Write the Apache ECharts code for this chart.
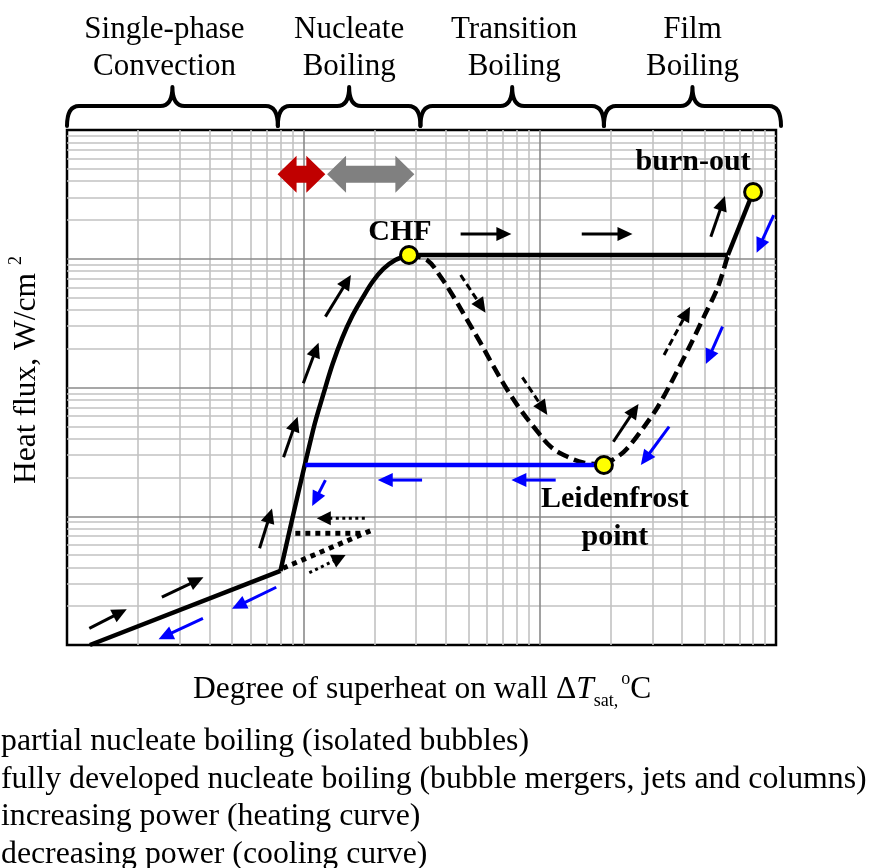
<!DOCTYPE html>
<html>
<head>
<meta charset="utf-8">
<script src="https://cdn.jsdelivr.net/npm/echarts@6/dist/echarts.min.js"></script>
<style>
  html, body { margin: 0; padding: 0; background: #ffffff; }
  #chart { width: 869px; height: 868px; }
</style>
</head>
<body>
<div id="chart"></div>
<script>
const SERIF = '"Liberation Serif", "Times New Roman", serif';

// Boiling regimes along the wall superheat axis (degC) and their captions
const regimeEdges = [1, 7.8, 31.3, 187, 1050];
const regimeNames = ['Single-phase\nConvection', 'Nucleate\nBoiling', 'Transition\nBoiling', 'Film\nBoiling'];
const captionShift = [-8, 0, 2, 0];

// Log grid: decades and the minor multipliers drawn inside each decade
const xDecades = [1, 10, 100];
const yDecades = [1, 10, 100, 1000];
const minorSteps = [2, 3, 4, 5, 6, 7, 8, 9];

// Boiling curve segments as [dT_sat (degC), q (W/cm2)]
const singlePhase = [[1.25, 1], [8, 3.76]];
const nucleate = [[8, 3.76], [11, 46.8], [12.2, 90.7], [13.3, 152], [14.6, 242], [16.1, 359],
                  [17.8, 496], [19.6, 660], [21.8, 833], [24.5, 978], [28, 1070]];
const chfPlateau = [[28, 1070], [626, 1070]];
const transition = [[28, 1070], [33.4, 977], [38.1, 725], [43.2, 507], [49.4, 334], [56.2, 222],
                    [63.9, 145], [73, 95.6], [83.1, 66.9], [94.3, 49.6], [111.3, 34.7],
                    [131.1, 29], [153.6, 26.1], [187, 25]];
const filmUnstable = [[187, 25], [227, 31.6], [276, 49.3], [316, 70.6], [359, 108], [424, 196],
                      [495, 353], [568, 604], [626, 1070]];
const filmStable = [[626, 1070], [800, 3300]];
const coolingDrop = [[187, 25], [10.2, 25]];

// Marked states
const chfPoint = [28, 1070];
const leidenfrostPoint = [187, 25];
const burnoutPoint = [800, 3300];

// Direction arrows as [x0, y0, x1, y1]
const heatingArrows = [
  [1.243, 1.348, 1.79, 1.894], [2.52, 2.35, 3.78, 3.36], [6.53, 5.64, 7.37, 11.5],
  [8.25, 28.7, 9.46, 59.3], [10.0, 108, 11.6, 223], [12.4, 355, 15.9, 748],
  [46.3, 1557, 75.9, 1557], [150.7, 1557, 247, 1557], [205, 37.9, 262, 74.4],
  [530, 1483, 608, 3072]
];
const heatingDashedArrows = [[46.3, 748, 59, 381], [84.5, 120, 107.8, 61.2], [336, 179, 433, 424]];
const coolingArrows = [
  [978, 2186, 828, 1114], [594, 297, 505, 152], [353, 49.6, 268, 25],
  [31.8, 19.1, 20.65, 19.1], [116.9, 19.1, 75.9, 19.1], [12.4, 19.1, 10.9, 12.0],
  [7.68, 2.81, 4.99, 1.91], [3.76, 1.61, 2.44, 1.11]
];
const dottedArrows = [[18.2, 9.64, 11.4, 9.64], [10.6, 3.64, 15.1, 5.0]];
const dottedBranch = [[9.25, 7.37, 17.4, 7.37], [8.2, 3.95, 19.2, 7.7]];

// Partial / fully developed nucleate boiling spans as [x0, x1, y]
const partialSpan = [[7.78, 12.39, 4529]];
const fullySpan = [[12.6, 29.5, 4529]];

const legendLines = [
  'partial nucleate boiling (isolated bubbles)',
  'fully developed nucleate boiling (bubble mergers, jets and columns)',
  'increasing power (heating curve)',
  'decreasing power (cooling curve)'
];

const chart = echarts.init(document.getElementById('chart'), null, { renderer: 'canvas' });

function gridLines() {
  const items = [];
  const minor = { color: '#c2c2c2', width: 1.6, type: 'solid' };
  const major = { color: '#8a8a8a', width: 1.6, type: 'solid' };
  xDecades.forEach(d => minorSteps.forEach(m => items.push({ xAxis: d * m, lineStyle: minor })));
  yDecades.forEach(d => minorSteps.forEach(m => items.push({ yAxis: d * m, lineStyle: minor })));
  xDecades.slice(1).forEach(d => items.push({ xAxis: d, lineStyle: major }));
  yDecades.slice(1).forEach(d => items.push({ yAxis: d, lineStyle: major }));
  return items;
}

function curve(data, color, width, type, smooth) {
  return {
    type: 'line', data: data, z: 5, symbol: 'none', smooth: smooth || false,
    lineStyle: { color: color, width: width, type: type, cap: 'butt', join: 'round' },
    silent: true, animation: false
  };
}

function arrowSeries(data, color, width, dash, headLen, headHalf) {
  return {
    type: 'custom', coordinateSystem: 'cartesian2d', data: data, z: 6, silent: true,
    encode: { x: [0, 2], y: [1, 3] }, animation: false,
    renderItem: function (params, api) {
      const a = api.coord([api.value(0), api.value(1)]);
      const b = api.coord([api.value(2), api.value(3)]);
      const dx = b[0] - a[0], dy = b[1] - a[1];
      const len = Math.hypot(dx, dy), ux = dx / len, uy = dy / len;
      const bx = b[0] - ux * headLen, by = b[1] - uy * headLen;
      const children = [{
        type: 'line',
        shape: { x1: a[0], y1: a[1], x2: bx + ux, y2: by + uy },
        style: { stroke: color, lineWidth: width, lineDash: dash, fill: null }
      }];
      if (headLen > 0) {
        children.push({
          type: 'polygon',
          shape: { points: [[b[0], b[1]], [bx - uy * headHalf, by + ux * headHalf], [bx + uy * headHalf, by - ux * headHalf]] },
          style: { fill: color }
        });
      }
      return { type: 'group', children: children };
    }
  };
}

function spanSeries(data, color) {
  return {
    type: 'custom', coordinateSystem: 'cartesian2d', data: data, z: 6, silent: true,
    encode: { x: [0, 1], y: 2 }, animation: false,
    renderItem: function (params, api) {
      const p = api.coord([api.value(0), api.value(2)]);
      const q = api.coord([api.value(1), api.value(2)]);
      const y = p[1], x0 = p[0], x1 = q[0];
      const L = 19, h = 18.5, s = 8.5;
      return {
        type: 'polygon',
        shape: { points: [[x0, y], [x0 + L, y - h], [x0 + L, y - s], [x1 - L, y - s], [x1 - L, y - h],
                          [x1, y], [x1 - L, y + h], [x1 - L, y + s], [x0 + L, y + s], [x0 + L, y + h]] },
        style: { fill: color }
      };
    }
  };
}

const braceSeries = {
  type: 'custom', coordinateSystem: 'cartesian2d', z: 6, silent: true, animation: false,
  data: regimeNames.map((n, i) => [regimeEdges[i], regimeEdges[i + 1], 1]),
  encode: { x: [0, 1], y: 2 },
  renderItem: function (params, api) {
    const xa = api.coord([api.value(0), 1])[0];
    const xb = api.coord([api.value(1), 1])[0];
    const xm = (xa + xb) / 2;
    const yEnd = 126, yMid = 106, yTip = 87, r = 12;
    const d = 'M' + xa + ',' + yEnd + ' Q' + xa + ',' + yMid + ' ' + (xa + r) + ',' + yMid +
              ' L' + (xm - r) + ',' + yMid + ' Q' + xm + ',' + yMid + ' ' + xm + ',' + yTip +
              ' Q' + xm + ',' + yMid + ' ' + (xm + r) + ',' + yMid +
              ' L' + (xb - r) + ',' + yMid + ' Q' + xb + ',' + yMid + ' ' + xb + ',' + yEnd;
    return {
      type: 'group',
      children: [
        { type: 'path', shape: { pathData: d }, style: { stroke: '#000', lineWidth: 4, fill: null, lineCap: 'round', lineJoin: 'round' } },
        { type: 'text', x: xm + captionShift[params.dataIndex], y: 11,
          style: { text: regimeNames[params.dataIndex], align: 'center', verticalAlign: 'top',
                   font: '31px ' + SERIF, lineHeight: 37, fill: '#000' } }
      ]
    };
  }
};

const boldLabel = { fontFamily: SERIF, fontWeight: 'bold', fontSize: 30, color: '#000',
                    textBorderWidth: 0, textBorderColor: 'transparent' };

function pointLabel(text, offset, extra) {
  return Object.assign({ show: true, formatter: text, offset: offset, position: 'inside',
                         align: 'center', verticalAlign: 'middle' }, boldLabel, extra || {});
}

const option = {
  animation: false,
  backgroundColor: '#ffffff',
  grid: { left: 67, top: 130, width: 709, height: 515, show: true, borderColor: '#000', borderWidth: 2.5, backgroundColor: 'transparent' },
  xAxis: {
    type: 'log', logBase: 10, min: 1, max: 1000,
    axisLine: { show: false }, axisTick: { show: false }, axisLabel: { show: false }, splitLine: { show: false }
  },
  yAxis: {
    type: 'log', logBase: 10, min: 1, max: 10000,
    axisLine: { show: false }, axisTick: { show: false }, axisLabel: { show: false }, splitLine: { show: false }
  },
  series: [
    {
      type: 'line', data: [[1, 1]], symbol: 'none', lineStyle: { width: 0 }, z: 1, silent: true,
      markLine: { silent: true, symbol: ['none', 'none'], label: { show: false }, animation: false, data: gridLines() }
    },
    curve(singlePhase, '#000', 4.5, 'solid'),
    curve(nucleate, '#000', 4.5, 'solid', 0.35),
    curve(chfPlateau, '#000', 4.5, 'solid'),
    curve(transition, '#000', 4.5, [12, 6], 0.35),
    curve(filmUnstable, '#000', 4.5, [12, 6], 0.3),
    curve(filmStable, '#000', 4.5, 'solid'),
    curve(coolingDrop, '#0000ff', 4.5, 'solid'),
    arrowSeries(heatingArrows, '#000', 3, null, 15, 7),
    arrowSeries(heatingDashedArrows, '#000', 3, [7, 4], 15, 7),
    arrowSeries(coolingArrows, '#0000ff', 3, null, 15, 7),
    arrowSeries(dottedArrows, '#000', 3, [3, 3.5], 14, 7),
    arrowSeries(dottedBranch, '#000', 5, [5, 5], 0, 0),
    spanSeries(partialSpan, '#c00000'),
    spanSeries(fullySpan, '#808080'),
    braceSeries,
    {
      type: 'scatter', z: 8, symbol: 'circle', symbolSize: 17, silent: true, animation: false,
      itemStyle: { color: '#ffff00', borderColor: '#000', borderWidth: 3, opacity: 1 },
      data: [
        { value: chfPoint, label: pointLabel('CHF', [-9, -23]) },
        { value: burnoutPoint, label: pointLabel('burn-out', [-60, -30]) },
        { value: leidenfrostPoint, label: pointLabel('Leidenfrost\npoint', [11, 53], { lineHeight: 38 }) }
      ]
    }
  ],
  graphic: [
    {
      type: 'text', left: 193, top: 670, silent: true,
      style: {
        text: '{a|Degree of superheat on wall \u0394}{i|T}{sub|sat,}{sp| }{sup|o}{a|C}',
        rich: {
          a: { fontFamily: SERIF, fontSize: 31.5, lineHeight: 40, verticalAlign: 'middle', fill: '#000' },
          i: { fontFamily: SERIF, fontSize: 31.5, fontStyle: 'italic', lineHeight: 40, verticalAlign: 'middle', fill: '#000' },
          sub: { fontFamily: SERIF, fontSize: 18, lineHeight: 16, verticalAlign: 'bottom', fill: '#000' },
          sp: { fontFamily: SERIF, fontSize: 12, lineHeight: 12, fill: '#000' },
          sup: { fontFamily: SERIF, fontSize: 18, lineHeight: 18, verticalAlign: 'top', fill: '#000' }
        }
      }
    },
    {
      type: 'text', x: 27, y: 370, rotation: Math.PI / 2, silent: true,
      style: {
        text: '{a|Heat flux, W/cm}{sup|2}', align: 'center', verticalAlign: 'middle',
        rich: {
          a: { fontFamily: SERIF, fontSize: 31.5, lineHeight: 40, verticalAlign: 'middle', fill: '#000' },
          sup: { fontFamily: SERIF, fontSize: 18, lineHeight: 18, verticalAlign: 'top', fill: '#000', padding: [0, 0, 0, 8] }
        }
      }
    }
  ].concat(legendLines.map((t, i) => ({
    type: 'text', left: 1, top: 726 + i * 37.5, silent: true,
    style: { text: t, font: '31.8px ' + SERIF, fill: '#000' }
  })))
};

chart.setOption(option);
</script>
</body>
</html>
